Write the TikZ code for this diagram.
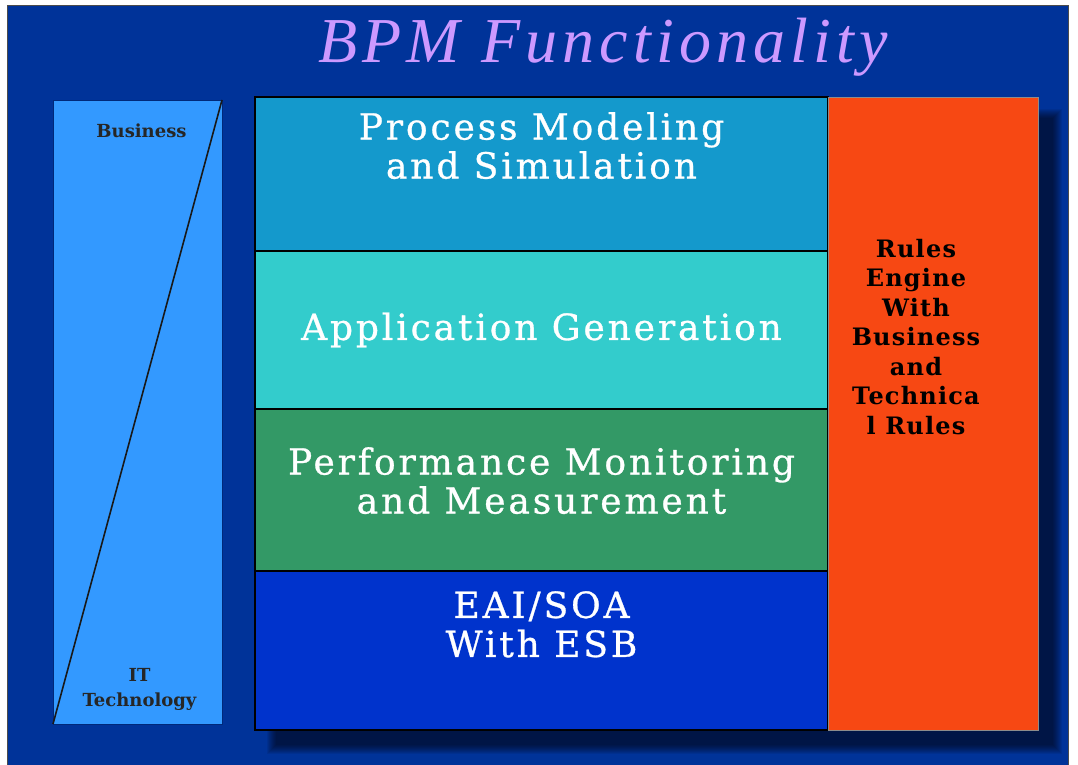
\documentclass[tikz,border=0pt]{standalone}
\usepackage{fontspec}
\setmainfont{DejaVu Serif}
\newfontfamily\titlefont{Liberation Serif}[LetterSpace=8]
\newfontfamily\layerfont{DejaVu Serif}[LetterSpace=8,FakeBold=0.8]
\newfontfamily\rulesfont{DejaVu Serif}[LetterSpace=5]
\usetikzlibrary{positioning,calc,backgrounds}
\definecolor{bgblue}{HTML}{003399}
\definecolor{sideblue}{HTML}{3399FF}
\definecolor{modelblue}{HTML}{1499CC}
\definecolor{appteal}{HTML}{33CCCC}
\definecolor{perfgreen}{HTML}{339966}
\definecolor{eaiblue}{HTML}{0033CC}
\definecolor{rulesorange}{HTML}{F74813}
\definecolor{titlelilac}{HTML}{CC99FF}
\tikzset{
  layer/.style   ={rectangle, draw=black, line width=1.5pt, outer sep=0pt,
                   minimum width=573pt, inner sep=0pt},
  layertxt/.style={text=white, align=center, inner sep=0pt,
                   font=\layerfont\fontsize{36}{39}\selectfont},
  rulesbox/.style={rectangle, draw=black!45, line width=0.6pt, fill=rulesorange,
                   outer sep=0pt, minimum width=210pt, minimum height=633pt},
  rulestxt/.style={text=black, align=center, inner sep=0pt,
                   font=\rulesfont\bfseries\fontsize{24}{29.5}\selectfont},
  sidebox/.style ={rectangle, draw=bgblue!80!black, line width=0.6pt, fill=sideblue,
                   outer sep=0pt, minimum width=169pt, minimum height=624pt},
  sidetxt/.style ={text=black!85, align=center, inner sep=0pt,
                   font=\bfseries\fontsize{18}{25}\selectfont},
  titletxt/.style={text=titlelilac, inner sep=0pt,
                   font=\titlefont\itshape\fontsize{64}{64}\selectfont},
}
\begin{document}
\begin{tikzpicture}[x=1pt, y=-1pt]
  \useasboundingbox (0,0) rectangle (1078,765);

  \node[titletxt] (title) at (603,47) {BPM Functionality};

  % stack of layers
  \node[layer, fill=modelblue, minimum height=154pt, anchor=north west] (model) at (255,97) {};
  \node[layer, fill=appteal,   minimum height=158pt, below=0pt of model]  (appgen) {};
  \node[layer, fill=perfgreen, minimum height=162pt, below=0pt of appgen] (perf) {};
  \node[layer, fill=eaiblue,   minimum height=159pt, below=0pt of perf]   (eai) {};
  \node[rulesbox, anchor=north west] (rules) at (model.north east) {};

  \node[layertxt, below=15pt of model.north]  (modeltxt) {Process Modeling\\and Simulation};
  \node[layertxt] (apptxt) at (appgen.center) {Application Generation};
  \node[layertxt, below=38pt of perf.north]   (perftxt) {Performance Monitoring\\and Measurement};
  \node[layertxt, below=20pt of eai.north]    (eaitxt) {EAI/SOA\\With ESB};
  \node[rulestxt, below=142pt of rules.north, xshift=-17pt] (rulestxt) {Rules\\Engine\\With\\Business\\and\\Technica\\l Rules};

  % business / IT scale
  \node[sidebox, anchor=north west] (scale) at (53,100) {};
  \draw[black!90, line width=1.6pt] (scale.north east) -- (scale.south west);
  \node[sidetxt, below=24pt of scale.north, xshift=4pt] (busi) {Business};
  \node[sidetxt, above=13pt of scale.south, xshift=2pt] (ittech) {IT\\Technology};

  % page and soft shadow behind the stack
  \begin{scope}[on background layer]
    \fill[white] (0,0) rectangle (1078,765);
    \fill[bgblue] (7,5) rectangle (1068,765);
    \draw[black!70, line width=0.8pt] (7,5) rectangle (1068,765);
    \foreach \k in {0,...,9}
      \fill[black, opacity=0.07] ($(model.north west)+(12+\k,12+\k)$) rectangle ($(rules.south east)+(24-\k,24-\k)$);
  \end{scope}
\end{tikzpicture}
\end{document}
